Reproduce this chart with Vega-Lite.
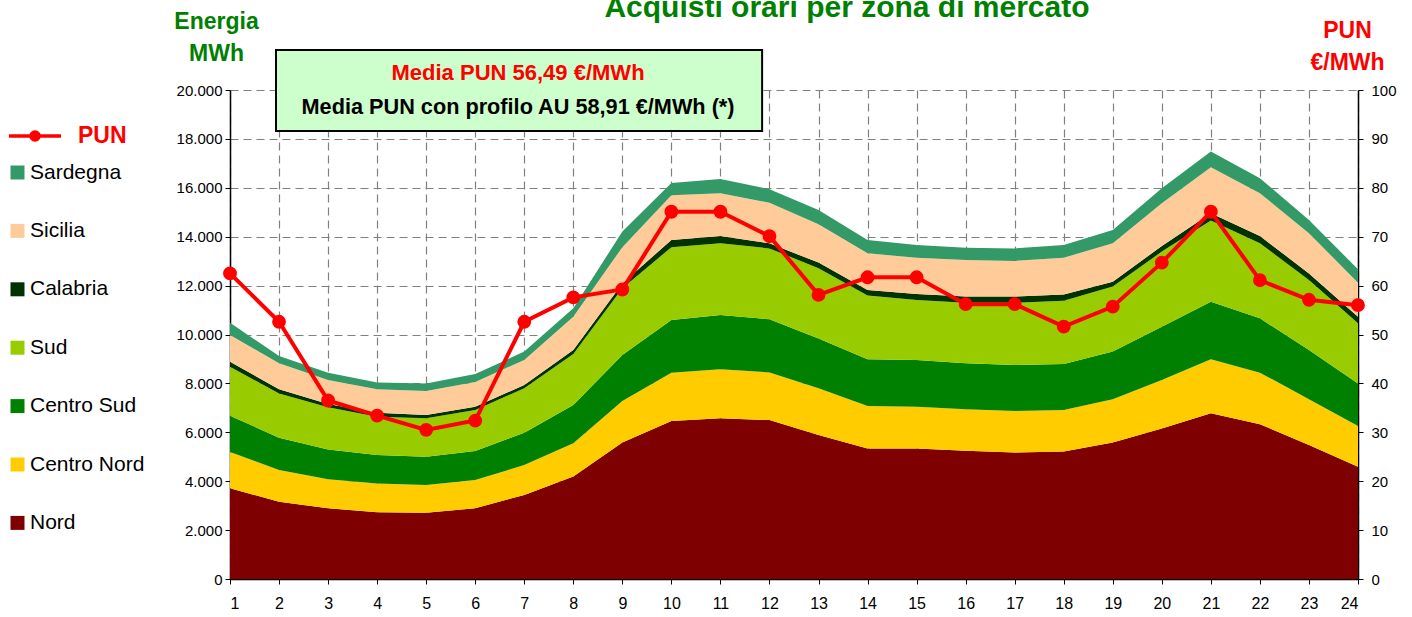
{
  "$schema": "https://vega.github.io/schema/vega-lite/v6.json",
  "width": 1128,
  "height": 489,
  "autosize": {"type": "none"},
  "padding": {"left": 230, "top": 90, "right": 54, "bottom": 38},
  "background": "white",
  "config": {
    "locale": {"number": {"decimal": ",", "thousands": ".", "grouping": [3], "currency": ["€", ""]}},
    "view": {"stroke": null},
    "font": "Liberation Sans",
    "axis": {
      "labelFont": "Liberation Sans",
      "labelColor": "#000000",
      "domainColor": "#000000",
      "tickColor": "#000000",
      "tickSize": 5,
      "gridColor": "#808080",
      "gridDash": [8, 5],
      "gridWidth": 1.2,
      "domainWidth": 1.5,
      "zindex": 1
    },
    "legend": {"padding": 0}
  },
  "title": {
    "text": "Acquisti orari per zona di mercato",
    "color": "#008000",
    "fontSize": 30,
    "fontWeight": "bold",
    "font": "Liberation Sans",
    "anchor": "middle",
    "frame": "group",
    "dx": 53,
    "dy": 37,
    "offset": 0,
    "baseline": "alphabetic"
  },
  "datasets": {
    "ore": [
      {"ora": 1, "Nord": 3710, "Centro Nord": 1480, "Centro Sud": 1490, "Sud": 2000, "Calabria": 210, "Sicilia": 1090, "Sardegna": 500, "PUN": 62.5},
      {"ora": 2, "Nord": 3160, "Centro Nord": 1300, "Centro Sud": 1320, "Sud": 1810, "Calabria": 170, "Sicilia": 1060, "Sardegna": 300, "PUN": 52.6},
      {"ora": 3, "Nord": 2890, "Centro Nord": 1190, "Centro Sud": 1220, "Sud": 1720, "Calabria": 140, "Sicilia": 980, "Sardegna": 300, "PUN": 36.5},
      {"ora": 4, "Nord": 2730, "Centro Nord": 1180, "Centro Sud": 1160, "Sud": 1570, "Calabria": 160, "Sicilia": 960, "Sardegna": 280, "PUN": 33.4},
      {"ora": 5, "Nord": 2710, "Centro Nord": 1130, "Centro Sud": 1160, "Sud": 1570, "Calabria": 140, "Sicilia": 980, "Sardegna": 310, "PUN": 30.5},
      {"ora": 6, "Nord": 2890, "Centro Nord": 1160, "Centro Sud": 1190, "Sud": 1670, "Calabria": 140, "Sicilia": 1010, "Sardegna": 320, "PUN": 32.4},
      {"ora": 7, "Nord": 3440, "Centro Nord": 1220, "Centro Sud": 1320, "Sud": 1820, "Calabria": 130, "Sicilia": 1030, "Sardegna": 340, "PUN": 52.6},
      {"ora": 8, "Nord": 4190, "Centro Nord": 1360, "Centro Sud": 1570, "Sud": 2080, "Calabria": 170, "Sicilia": 1360, "Sardegna": 340, "PUN": 57.6},
      {"ora": 9, "Nord": 5580, "Centro Nord": 1700, "Centro Sud": 1880, "Sud": 2730, "Calabria": 200, "Sicilia": 1480, "Sardegna": 640, "PUN": 59.2},
      {"ora": 10, "Nord": 6460, "Centro Nord": 1980, "Centro Sud": 2150, "Sud": 2980, "Calabria": 300, "Sicilia": 1830, "Sardegna": 500, "PUN": 75.1},
      {"ora": 11, "Nord": 6570, "Centro Nord": 2010, "Centro Sud": 2220, "Sud": 2930, "Calabria": 300, "Sicilia": 1750, "Sardegna": 580, "PUN": 75.1},
      {"ora": 12, "Nord": 6500, "Centro Nord": 1950, "Centro Sud": 2170, "Sud": 2900, "Calabria": 210, "Sicilia": 1660, "Sardegna": 550, "PUN": 70.1},
      {"ora": 13, "Nord": 5890, "Centro Nord": 1910, "Centro Sud": 2040, "Sud": 2870, "Calabria": 230, "Sicilia": 1570, "Sardegna": 580, "PUN": 58.1},
      {"ora": 14, "Nord": 5340, "Centro Nord": 1740, "Centro Sud": 1910, "Sud": 2600, "Calabria": 230, "Sicilia": 1500, "Sardegna": 550, "PUN": 61.7},
      {"ora": 15, "Nord": 5340, "Centro Nord": 1710, "Centro Sud": 1910, "Sud": 2450, "Calabria": 250, "Sicilia": 1480, "Sardegna": 520, "PUN": 61.7},
      {"ora": 16, "Nord": 5250, "Centro Nord": 1690, "Centro Sud": 1880, "Sud": 2480, "Calabria": 250, "Sicilia": 1500, "Sardegna": 500, "PUN": 56.2},
      {"ora": 17, "Nord": 5170, "Centro Nord": 1700, "Centro Sud": 1880, "Sud": 2550, "Calabria": 250, "Sicilia": 1460, "Sardegna": 510, "PUN": 56.2},
      {"ora": 18, "Nord": 5210, "Centro Nord": 1700, "Centro Sud": 1880, "Sud": 2590, "Calabria": 260, "Sicilia": 1500, "Sardegna": 520, "PUN": 51.6},
      {"ora": 19, "Nord": 5580, "Centro Nord": 1770, "Centro Sud": 1950, "Sud": 2660, "Calabria": 200, "Sicilia": 1570, "Sardegna": 540, "PUN": 55.7},
      {"ora": 20, "Nord": 6160, "Centro Nord": 1980, "Centro Sud": 2180, "Sud": 3070, "Calabria": 230, "Sicilia": 1750, "Sardegna": 610, "PUN": 64.7},
      {"ora": 21, "Nord": 6780, "Centro Nord": 2210, "Centro Sud": 2350, "Sud": 3320, "Calabria": 300, "Sicilia": 1880, "Sardegna": 640, "PUN": 75.1},
      {"ora": 22, "Nord": 6330, "Centro Nord": 2110, "Centro Sud": 2220, "Sud": 3070, "Calabria": 300, "Sicilia": 1750, "Sardegna": 610, "PUN": 61.1},
      {"ora": 23, "Nord": 5480, "Centro Nord": 1870, "Centro Sud": 2020, "Sud": 2860, "Calabria": 270, "Sicilia": 1640, "Sardegna": 540, "PUN": 57.1},
      {"ora": 24, "Nord": 4590, "Centro Nord": 1670, "Centro Sud": 1740, "Sud": 2460, "Calabria": 270, "Sicilia": 1390, "Sardegna": 550, "PUN": 56.0}
    ]
  },
  "data": {"name": "ore"},
  "layer": [
    {
      "layer": [
        {
          "transform": [
            {"fold": ["Nord", "Centro Nord", "Centro Sud", "Sud", "Calabria", "Sicilia", "Sardegna"], "as": ["zona", "mwh"]},
            {"lookup": "zona", "from": {"data": {"values": [
              {"zona": "Nord", "livello": 1},
              {"zona": "Centro Nord", "livello": 2},
              {"zona": "Centro Sud", "livello": 3},
              {"zona": "Sud", "livello": 4},
              {"zona": "Calabria", "livello": 5},
              {"zona": "Sicilia", "livello": 6},
              {"zona": "Sardegna", "livello": 7}
            ]}, "key": "zona", "fields": ["livello"]}}
          ],
          "mark": {"type": "area", "opacity": 1, "interpolate": "linear"},
          "encoding": {
            "x": {
              "field": "ora", "type": "quantitative",
              "scale": {"domain": [1, 24], "nice": false, "zero": false},
              "axis": {
                "values": [1,2,3,4,5,6,7,8,9,10,11,12,13,14,15,16,17,18,19,20,21,22,23,24],
                "format": "d", "labelFontSize": 16, "labelPadding": 11, "title": null, "grid": true
              }
            },
            "y": {
              "field": "mwh", "type": "quantitative", "stack": "zero",
              "scale": {"domain": [0, 20000], "nice": false},
              "axis": {
                "values": [0,2000,4000,6000,8000,10000,12000,14000,16000,18000,20000],
                "format": ",.0f", "labelFontSize": 15, "labelPadding": 3, "grid": true,
                "title": ["Energia", "MWh"], "titleAngle": 0, "titleAlign": "center", "titleBaseline": "alphabetic",
                "titleX": -14, "titleY": -62, "titleLineHeight": 32,
                "titleFont": "Liberation Sans", "titleFontSize": 23, "titleFontWeight": "bold", "titleColor": "#008000"
              }
            },
            "color": {
              "field": "zona", "type": "nominal",
              "scale": {
                "domain": ["Sardegna", "Sicilia", "Calabria", "Sud", "Centro Sud", "Centro Nord", "Nord"],
                "range": ["#339966", "#FFCC99", "#003300", "#99CC00", "#008000", "#FFCC00", "#7F0000"]
              },
              "legend": {
                "orient": "none", "legendX": -223, "legendY": 72, "title": null,
                "symbolType": "square", "symbolSize": 196, "symbolStrokeWidth": 0,
                "labelFont": "Liberation Sans", "labelFontSize": 21, "labelColor": "#000000",
                "labelOffset": 2, "rowPadding": 36.4
              }
            },
            "order": {"field": "livello", "type": "quantitative"}
          }
        },
        {
          "data": {"values": [{}]},
          "mark": {"type": "rect", "fill": "#CCFFCC", "stroke": "#000000", "strokeWidth": 2},
          "encoding": {
            "x": {"datum": 1.938, "type": "quantitative"},
            "x2": {"datum": 11.85},
            "y": {"datum": 18320, "type": "quantitative"},
            "y2": {"datum": 21640}
          }
        },
        {
          "data": {"values": [{}]},
          "mark": {"type": "text", "text": "Media PUN 56,49 €/MWh", "font": "Liberation Sans", "fontSize": 22, "fontWeight": "bold", "fill": "#FF0000", "align": "center", "baseline": "middle"},
          "encoding": {
            "x": {"datum": 6.873, "type": "quantitative"},
            "y": {"datum": 20700, "type": "quantitative"}
          }
        },
        {
          "data": {"values": [{}]},
          "mark": {"type": "text", "text": "Media PUN con profilo AU 58,91 €/MWh (*)", "font": "Liberation Sans", "fontSize": 21.7, "fontWeight": "bold", "fill": "#000000", "align": "center", "baseline": "middle"},
          "encoding": {
            "x": {"datum": 6.873, "type": "quantitative"},
            "y": {"datum": 19310, "type": "quantitative"}
          }
        }
      ]
    },
    {
      "layer": [
        {
          "mark": {"type": "line", "strokeWidth": 4, "interpolate": "linear"},
          "encoding": {
            "x": {"field": "ora", "type": "quantitative"},
            "y": {
              "field": "PUN", "type": "quantitative",
              "scale": {"domain": [0, 100], "nice": false},
              "axis": {
                "orient": "right",
                "values": [0,10,20,30,40,50,60,70,80,90,100],
                "labelFontSize": 15, "labelPadding": 8, "grid": false,
                "title": ["PUN", "€/MWh"], "titleAngle": 0, "titleAlign": "center", "titleBaseline": "alphabetic",
                "titleX": -11, "titleY": -53, "titleLineHeight": 32,
                "titleFont": "Liberation Sans", "titleFontSize": 23, "titleFontWeight": "bold", "titleColor": "#FF0000"
              }
            },
            "stroke": {
              "datum": "PUN",
              "scale": {"range": ["#FF0000"]},
              "legend": {
                "orient": "none", "legendX": -233, "legendY": 34, "title": null,
                "symbolType": "M0,0H5.2M2.2,0a0.4,0.4 0 1,0 0.8,0a0.4,0.4 0 1,0 -0.8,0",
                "symbolSize": 400,
                "labelFont": "Liberation Sans", "labelFontSize": 23, "labelFontWeight": "bold", "labelColor": "#FF0000",
                "labelOffset": 57,
                "encode": {"symbols": {"update": {"fill": {"value": "#FF0000"}, "stroke": {"value": "#FF0000"}, "strokeWidth": {"value": 3.5}}}}
              }
            }
          }
        },
        {
          "mark": {"type": "point", "filled": true, "fill": "#FF0000", "stroke": "#FF0000", "size": 140, "opacity": 1, "shape": "circle"},
          "encoding": {
            "x": {"field": "ora", "type": "quantitative"},
            "y": {"field": "PUN", "type": "quantitative"}
          }
        }
      ]
    }
  ],
  "resolve": {"scale": {"y": "independent"}}
}
